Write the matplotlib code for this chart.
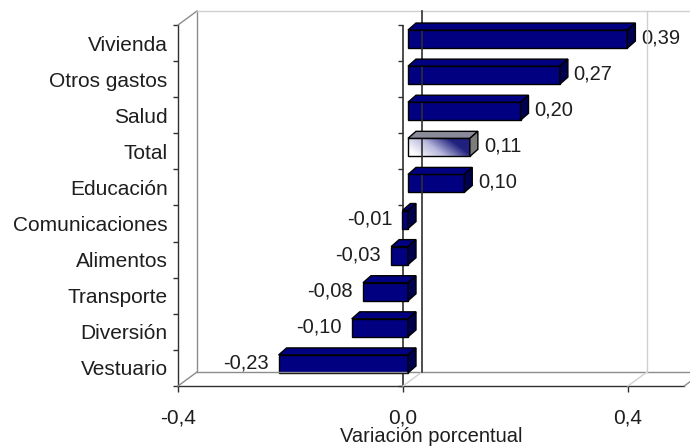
import numpy as np
import matplotlib
matplotlib.use('Agg')
import matplotlib.pyplot as plt
from matplotlib.transforms import ScaledTranslation, IdentityTransform
from matplotlib.patches import Polygon
from matplotlib.lines import Line2D
from matplotlib.markers import TICKLEFT
from matplotlib.colors import LinearSegmentedColormap

# ---------------- data ----------------
categories = ["Vivienda", "Otros gastos", "Salud", "Total", "Educación",
              "Comunicaciones", "Alimentos", "Transporte", "Diversión", "Vestuario"]
values = [0.39, 0.27, 0.20, 0.11, 0.10, -0.01, -0.03, -0.08, -0.10, -0.23]
xticks = [-0.4, 0.0, 0.4]
xticklabels = ["-0,4", "0,0", "0,4"]
xlabel = "Variación porcentual"
highlight = "Total"

plt.rcParams['font.family'] = ['Liberation Sans', 'DejaVu Sans']

W, H = 690, 447
DPI = 100
fig = plt.figure(figsize=(W / DPI, H / DPI), dpi=DPI)

xmin, xmax = -0.4, 0.5
ppu = 562.5          # pixels per unit on the value axis
left_px, bottom_px, top_px = 178, 386, 25
ax = fig.add_axes([left_px / W, (H - bottom_px) / H,
                   (xmax - xmin) * ppu / W, (bottom_px - top_px) / H])
n = len(categories)
ax.set_xlim(xmin, xmax)
ax.set_ylim(-0.5, n - 0.5)
ax.set_autoscale_on(False)
ax.patch.set_alpha(0)

ypos = np.arange(n)[::-1]
ybot, ytop = -0.5, n - 0.5

# depth offsets (pixels, y up)
BACK = (19, 14)
BF = (5, 4)     # bar front offset
BB = (13, 11)   # bar back offset

txt = '#1e1e1e'


def disp(x, y, off=(0, 0)):
    p = ax.transData.transform((x, y))
    return (p[0] + off[0], p[1] + off[1])


def line(p1, p2, color, lw=1.0, z=1):
    l = Line2D([p1[0], p2[0]], [p1[1], p2[1]], color=color, lw=lw,
               transform=IdentityTransform(), zorder=z, clip_on=False)
    fig.add_artist(l)


dark = '#303030'
mid = '#8c8c8c'
light = '#d0d0d0'

# walls / floor
line(disp(xmin, ytop), disp(xmin, ytop, BACK), mid)
line(disp(xmin, ytop, BACK), disp(xmin, ybot, BACK), mid)
line(disp(xmin, ybot), disp(xmin, ybot, BACK), mid)
line(disp(xmin, ytop, BACK), disp(xmax, ytop, BACK), light)
line(disp(xmin, ybot, BACK), disp(xmax, ybot, BACK), mid)
line(disp(xmax, ybot), disp(xmax, ybot, BACK), mid)
for xv in [0.0, 0.4]:
    line(disp(xv, ybot), disp(xv, ybot, BACK), light)
line(disp(0.4, ybot, BACK), disp(0.4, ytop, BACK), light)
line(disp(0.0, ybot, BACK), disp(0.0, ytop, BACK), dark, lw=1.2)

# front zero (category) axis with ticks
ax.axvline(0, color=dark, lw=1.2, zorder=1)
bounds = np.arange(n + 1) - 0.5
ax.plot(np.zeros(len(bounds)), bounds, ls='none', marker=TICKLEFT,
        markersize=5 * 0.72, markeredgewidth=1.0, color=dark,
        clip_on=False, zorder=1)

# spines / ticks
for s in ['top', 'right']:
    ax.spines[s].set_visible(False)
for s in ['left', 'bottom']:
    ax.spines[s].set_color(dark)
    ax.spines[s].set_linewidth(1.0)
ax.set_yticks(bounds)
ax.set_yticklabels([])
ax.set_yticks(ypos, minor=True)
ax.set_yticklabels(categories, minor=True, fontsize=15, color=txt)
ax.tick_params(axis='y', which='major', length=5 * 0.72, width=1.0,
               color=dark, direction='out')
ax.tick_params(axis='y', which='minor', length=0, pad=7.5)
ax.set_xticks(xticks)
ax.set_xticklabels(xticklabels, fontsize=15, color=txt)
ax.tick_params(axis='x', length=6 * 0.72, width=1.0, color=dark, pad=12)

# bars
front_t = ax.transData + ScaledTranslation(BF[0] / DPI, BF[1] / DPI, fig.dpi_scale_trans)
bh = 0.5
navy = '#000080'
colors = ['none' if c == highlight else navy for c in categories]
bars = ax.barh(ypos, values, height=bh, left=0, color=colors,
               edgecolor='black', linewidth=1.0, transform=front_t, zorder=4)

grad_cmap = LinearSegmentedColormap.from_list('g', ['#ffffff', '#b8b8dc', '#20207e'])
top_cmap = LinearSegmentedColormap.from_list('t', ['#d8d8e0', '#6a6a7a'])
for cat, v, y, rect in zip(categories, values, ypos, bars):
    x0, x1 = min(0, v), max(0, v)
    yt, yb = y + bh / 2, y - bh / 2
    is_h = cat == highlight
    topc = '#8a8a9a' if is_h else navy
    sidec = '#7c7c7c' if is_h else '#000050'
    top = [disp(x0, yt, BF), disp(x1, yt, BF), disp(x1, yt, BB), disp(x0, yt, BB)]
    side = [disp(x1, yb, BF), disp(x1, yt, BF), disp(x1, yt, BB), disp(x1, yb, BB)]
    for pts, c in [(top, topc), (side, sidec)]:
        fig.add_artist(Polygon(pts, closed=True, facecolor=c, edgecolor='black',
                               lw=1.0, transform=IdentityTransform(), zorder=3))
    if is_h:
        u = np.linspace(0, 1, 200)[None, :]
        vv = np.linspace(0, 1, 40)[:, None]
        g = np.clip(u * 1.1 + vv * 0.45 - 0.15, 0, 1)
        im = ax.imshow(g, cmap=grad_cmap, vmin=0, vmax=1, aspect='auto',
                       extent=(x0, x1, yb, yt), origin='lower',
                       transform=front_t, zorder=3.5, interpolation='bilinear')
        im.set_clip_path(rect)
    # value labels
    lab = f"{v:.2f}".replace('.', ',')
    dx = 38 if v >= 0 else -28
    ax.annotate(lab, xy=(v, y), xytext=(dx, 5), textcoords='offset pixels',
                ha='center', va='center', fontsize=14.5, color=txt,
                annotation_clip=False, zorder=6)

fig.text(431 / W, (H - 442) / H, xlabel, ha='center', va='baseline',
         fontsize=14.5, color=txt)

fig.savefig('out.png', dpi=DPI)
